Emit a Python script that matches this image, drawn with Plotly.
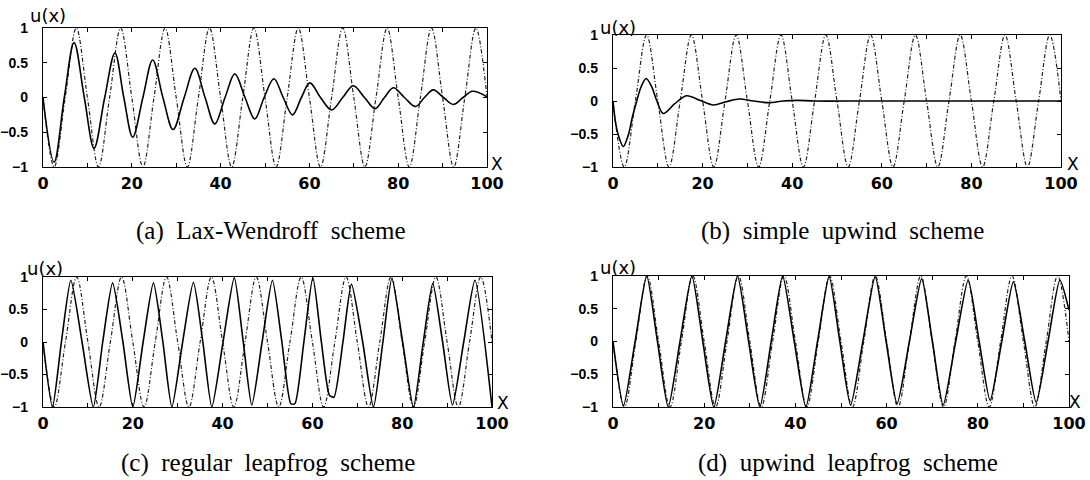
import plotly.graph_objects as go

# ---------------- data ----------------
# exact solution (dash-dot), same in all four panels
exact_x = [0, 2.5, 5, 7.5, 10, 12.5, 15, 17.5, 20, 22.5, 25, 27.5, 30, 32.5, 35, 37.5,
           40, 42.5, 45, 47.5, 50, 52.5, 55, 57.5, 60, 62.5, 65, 67.5, 70, 72.5, 75, 77.5,
           80, 82.5, 85, 87.5, 90, 92.5, 95, 97.5, 100]
exact_y = [0, -1, 0, 1, 0, -1, 0, 1, 0, -1, 0, 1, 0, -1, 0, 1,
           0, -1, 0, 1, 0, -1, 0, 1, 0, -1, 0, 1, 0, -1, 0, 1,
           0, -1, 0, 1, 0, -1, 0, 1, 0]

# (a) Lax-Wendroff
lw_x = [0, 2.5, 4.8, 7.0, 9.3, 11.5, 13.9, 16.2, 18.2, 20.2, 22.5, 24.7, 27.0, 29.3, 31.8,
        34.2, 36.5, 38.7, 41.0, 43.2, 45.5, 47.7, 49.8, 52.0, 54.1, 56.2, 58.2, 60.1, 62.5,
        65.0, 67.5, 69.9, 72.4, 74.8, 76.9, 78.9, 81.4, 83.9, 85.9, 87.9, 90.2, 92.4, 94.6,
        96.7, 100]
lw_y = [0, -0.93, 0, 0.79, 0, -0.73, 0, 0.64, 0, -0.57, 0, 0.54, 0, -0.46, 0,
        0.42, 0, -0.38, 0, 0.34, 0, -0.31, 0, 0.27, 0, -0.25, 0, 0.21, 0,
        -0.18, 0, 0.17, 0, -0.16, 0, 0.14, 0, -0.13, 0, 0.11, 0, -0.10, 0,
        0.09, 0.01]

# (b) simple upwind
up_x = [0, 0.6, 1.2, 2.3, 3.4, 4.3, 5.3, 6.3, 7.4, 8.6, 9.8, 11.2, 13.8, 16.4, 19.4,
        22.4, 25.3, 28.2, 31.4, 34.7, 38.0, 41.0, 45.0, 55.0, 65.0, 75.0, 85.0, 100.0]
up_y = [0, -0.34, -0.52, -0.69, -0.52, -0.25, 0, 0.22, 0.34, 0.22, 0, -0.19, -0.04, 0.08, 0.01,
        -0.06, -0.01, 0.03, 0.0, -0.025, 0.0, 0.01, 0.0, 0, 0, 0, 0, 0]

# (c) regular leapfrog
lf_x = [0, 2.1, 4.1, 6.2, 8.7, 11.2, 13.3, 15.5, 17.8, 20.0, 22.3, 24.6, 26.7, 28.7, 31.1,
        33.5, 35.6, 37.6, 40.1, 42.6, 44.6, 46.5, 48.8, 51.1, 53.2, 55.2, 56.1, 58.1, 60.1,
        62.0, 63.8, 64.8, 66.8, 68.7, 71.2, 73.6, 75.7, 77.7, 80.1, 82.5, 84.7, 86.8, 89.0,
        91.2, 93.7, 96.2, 100]
lf_y = [0, -1, 0, 0.95, 0, -1, 0, 0.91, 0, -1, 0, 0.91, 0, -1, 0,
        0.92, 0, -1, 0, 0.99, 0, -0.97, 0, 0.95, 0, -0.95, -0.95, 0, 0.99,
        0, -0.82, -0.85, 0, 0.89, 0, -1, 0, 0.98, 0, -1, 0, 0.9, 0,
        -0.97, 0, 0.95, -1]

# (d) upwind leapfrog
ul_x = [0, 2.3, 4.85, 7.4, 9.75, 12.1, 14.7, 17.3, 19.7, 22.1, 24.7, 27.3, 29.75, 32.2,
        34.7, 37.2, 39.75, 42.3, 44.85, 47.4, 49.75, 52.1, 54.8, 57.5, 59.9, 62.3, 65.0,
        67.7, 70.05, 72.4, 75.15, 77.9, 80.3, 82.7, 85.25, 87.8, 90.3, 92.8, 95.4, 98.0, 100]
ul_y = [0, -0.98, 0, 1, 0, -1, 0, 1, 0, -1, 0, 1, 0, -1,
        0, 1, 0, -1, 0, 0.99, 0, -0.97, 0, 0.99, 0, -0.95, 0,
        0.96, 0, -0.97, 0, 0.94, 0, -0.9, 0, 0.91, 0, -0.93, 0, 0.94, 0.48]

captions = ["(a)  Lax-Wendroff  scheme", "(b)  simple  upwind  scheme",
            "(c)  regular  leapfrog  scheme", "(d)  upwind  leapfrog  scheme"]
x_ticks = [0, 20, 40, 60, 80, 100]
x_minor = [10, 30, 50, 70, 90]
y_ticks = [-1, -0.5, 0, 0.5, 1]
y_labels = ["\u22121", "\u22120.5", "0", "0.5", "1"]

# ---------------- layout (pixel boxes) ----------------
W, H = 1090, 480
boxes = [(43, 487, 28, 167), (613, 1061, 35, 167), (43, 492, 277, 407), (613, 1069, 276, 407)]
ulabel = [(48, 15), (618, 27), (45, 268), (618, 267)]
xlabel = [(497, 164), (1073, 164), (503, 403), (1075, 402)]
cap_pos = [(271, 231), (842, 231), (268, 463), (848, 463)]

series = [(lw_x, lw_y, 1.0), (up_x, up_y, 0.9), (lf_x, lf_y, 0.6), (ul_x, ul_y, 0.6)]

SANS = "DejaVu Sans"
fig = go.Figure()
xtickfont = dict(family="DejaVu Sans", size=16, color="black", weight="bold")
ytickfont = dict(family="Liberation Sans", size=14, color="black", weight="bold")
for i, (bx, (sx, sy, sm)) in enumerate(zip(boxes, series)):
    n = "" if i == 0 else str(i + 1)
    xa, ya = "x" + n, "y" + n
    fig.add_trace(go.Scatter(x=exact_x, y=exact_y, mode="lines", xaxis=xa, yaxis=ya,
                             line=dict(color="#222", width=1.2, dash="4px,2px,1px,2px",
                                       shape="spline", smoothing=1.0),
                             showlegend=False, hoverinfo="skip"))
    fig.add_trace(go.Scatter(x=sx, y=sy, mode="lines", xaxis=xa, yaxis=ya,
                             line=dict(color="black", width=1.6, shape="spline", smoothing=sm),
                             showlegend=False, hoverinfo="skip"))
    x0, x1, y0, y1 = bx
    fig.layout["xaxis" + n] = dict(domain=[x0 / W, x1 / W], anchor=ya, range=[0, 100],
                                   automargin=False,
                                   tickvals=x_ticks, ticks="inside", ticklen=4, tickcolor="black",
                                   minor=dict(tickvals=x_minor, ticks="inside", ticklen=4,
                                              tickcolor="black"),
                                   showline=True, linecolor="black", linewidth=1.4,
                                   mirror="allticks", showgrid=False, zeroline=False,
                                   tickfont=xtickfont, ticklabelstandoff=2)
    fig.layout["yaxis" + n] = dict(domain=[1 - y1 / H, 1 - y0 / H], anchor=xa, range=[-1, 1],
                                   automargin=False,
                                   tickvals=y_ticks, ticktext=y_labels, ticks="inside",
                                   ticklen=4, tickcolor="black",
                                   showline=True, linecolor="black", linewidth=1.4,
                                   mirror="allticks", showgrid=False, zeroline=False,
                                   tickfont=ytickfont, ticklabelstandoff=11)

ann = []
for i in range(4):
    ux, uy = ulabel[i]
    ann.append(dict(x=ux / W, y=1 - uy / H, xref="paper", yref="paper", text="u(x)",
                    showarrow=False, font=dict(family=SANS, size=18, color="black"),
                    xanchor="center", yanchor="middle"))
    lx, ly = xlabel[i]
    ann.append(dict(x=lx / W, y=1 - ly / H, xref="paper", yref="paper", text="X",
                    showarrow=False, font=dict(family=SANS, size=17, color="black"),
                    xanchor="center", yanchor="middle"))
    cx, cy = cap_pos[i]
    ann.append(dict(x=cx / W, y=1 - cy / H, xref="paper", yref="paper", text=captions[i],
                    showarrow=False, font=dict(family="Liberation Serif", size=25, color="black"),
                    xanchor="center", yanchor="middle"))

fig.update_layout(template="none", width=W, height=H, margin=dict(l=0, r=0, t=0, b=0),
                  paper_bgcolor="white", plot_bgcolor="white", annotations=ann)
fig.write_html("out.html")
